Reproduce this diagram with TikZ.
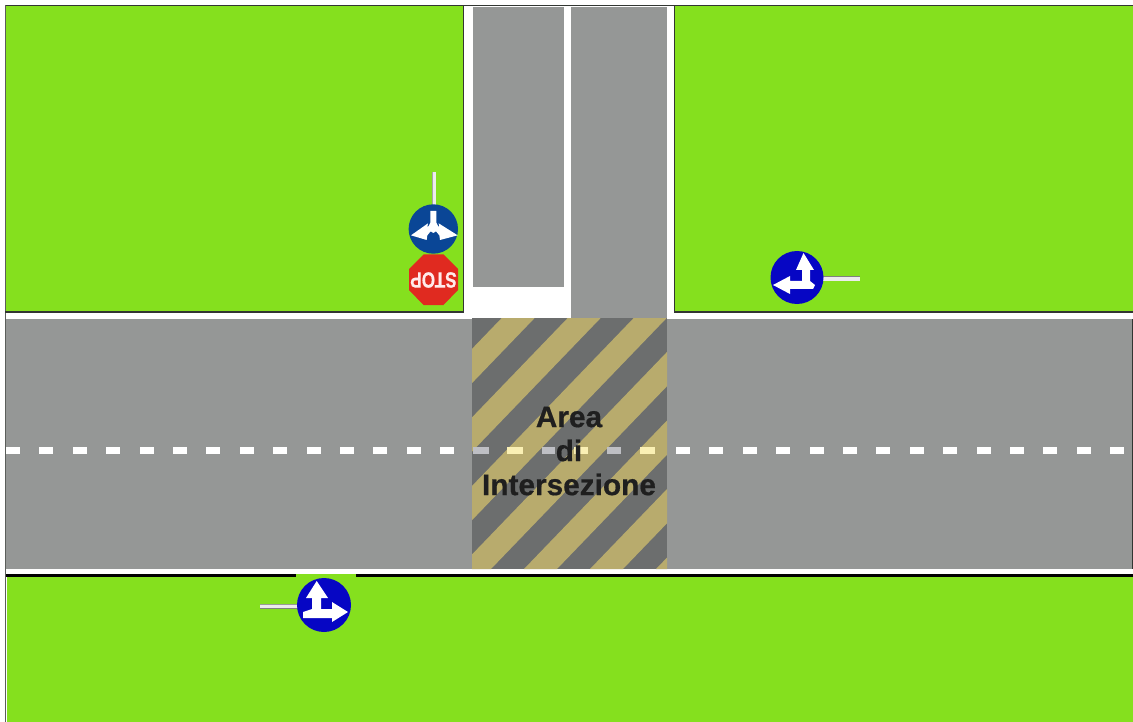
\documentclass[tikz,border=0pt]{standalone}
\usepackage{fontspec}
\setmainfont{Liberation Sans}
\newfontfamily\heavyfont[FakeBold=0.6]{Liberation Sans Bold}
\definecolor{grass}{RGB}{133,224,30}
\definecolor{road}{RGB}{149,151,150}
\definecolor{stripegray}{RGB}{108,110,110}
\definecolor{stripegold}{RGB}{184,171,109}
\definecolor{signblue}{RGB}{6,6,196}
\definecolor{signnavy}{RGB}{10,70,150}
\definecolor{stopred}{RGB}{224,42,32}
\definecolor{edgedark}{RGB}{50,54,50}
\definecolor{dashgray}{RGB}{190,191,196}
\definecolor{dashcream}{RGB}{250,240,180}
\tikzset{
  grassfill/.style={fill=grass},
  roadfill/.style={fill=road},
  dashmark/.style={fill=white},
  edgeline/.style={draw=edgedark,line width=1.4pt},
  pole/.style={line width=4.5pt,draw=white!85!gray},
  poleshade/.style={line width=1.2pt,draw=gray},
  arrowfill/.style={fill=white},
}
\begin{document}
\begin{tikzpicture}[x=1pt,y=-1pt]
\useasboundingbox (0,0) rectangle (1133,722);
\fill[white] (0,0) rectangle (1133,722);
% grass
\fill[grassfill] (6,6) rectangle (464,312);
\fill[grassfill] (675,6) rectangle (1133,312);
\fill[grassfill] (7,577) rectangle (1133,722);
% roads
\fill[roadfill] (6,319) rectangle (1133,569);
\fill[roadfill] (473,7) rectangle (564,287);
\fill[roadfill] (571,7) rectangle (666.5,319);
% borders
\draw[edgeline] (5,5.6) -- (1133,5.6);
\draw[edgeline,draw=edgedark!80] (5.5,5) -- (5.5,722);
\draw[edgeline] (463.7,6) -- (463.7,312) -- (5,312);
\draw[edgeline] (674.6,6) -- (674.6,312) -- (1133,312);
\draw[edgeline] (1132.3,319) -- (1132.3,569);
\draw[line width=3pt,black] (6,575.5) -- (1133,575.5);
% dashes
\foreach \k in {0,...,13} {\fill[dashmark] ({6+33.4*\k},447) rectangle ++(14,7);}
\foreach \k in {0,...,13} {\fill[dashmark] ({676+33.4*\k},447) rectangle ++(14,7);}
% intersection area
\fill[stripegray] (472,318) rectangle (667,569);
\begin{scope}
\clip (472,318) rectangle (667,569);
\foreach \k in {0,...,6} {
  \fill[stripegold] ({501.7+66*\k},318) -- ({534.7+66*\k},318) -- ({293+66*\k},569) -- ({260+66*\k},569) -- cycle;
}
\end{scope}
\fill[dashgray] (472.7,447) rectangle (489,454);
\fill[dashcream] (507,447) rectangle (523,454);
\fill[dashgray] (541.7,447) rectangle (555,454);
\fill[dashcream] (574,447) rectangle (588,454);
\fill[dashgray] (607,447) rectangle (621,454);
\fill[dashcream] (640,447) rectangle (655,454);
\node[font=\fontsize{29.8}{34}\heavyfont,text=black!88,align=center,inner sep=0pt] (areatext) at (569,451) {Area\\di\\Intersezione};
% sign 1: navy + stop
\draw[pole] (434,172) -- (434,206);
\draw[poleshade,draw=gray!70] (432.2,172) -- (432.2,206);
\fill[signnavy] (433.3,229) circle (24.7);
\begin{scope}[shift={(390,160)},scale=1/3]
\fill[arrowfill] (121,153) -- (139,153) -- (139,188) -- (144,198) -- (148,201) -- (146,190) -- (203,226) -- (150,240) -- (148,226) -- (138,214) -- (130,219) -- (122,214) -- (112,226) -- (110,240) -- (63,226) -- (114,190) -- (112,201) -- (116,198) -- (121,188) -- cycle;
\end{scope}
\fill[stopred] (423.5,254.5) -- (443.5,254.5) -- (458,269) -- (458,290) -- (443.5,305) -- (423.5,305) -- (409,290) -- (409,269) -- cycle;
\node[rotate=180,xscale=.78,text=white!92!red,font=\fontsize{22}{22}\heavyfont,inner sep=0pt] (stoptext) at (433.5,280) {STOP};
% sign 2
\draw[pole] (822,278.5) -- (860,278.5);
\draw[poleshade,draw=gray] (822,276.6) -- (860,276.6);
\fill[signblue] (797,277.5) circle (26.5);
\fill[arrowfill] (803.5,253) -- (814,270) -- (810,270) -- (810,281) -- (815,285) -- (813,289) -- (790,289) -- (790,294) -- (773,285) -- (790,276) -- (790,281) -- (802,281) -- (802,270) -- (796,270) -- cycle;
% sign 3
\fill[grassfill] (296,574) rectangle (356,580);
\draw[pole] (260,606.5) -- (298,606.5);
\draw[poleshade,draw=gray] (260,608.2) -- (298,608.2);
\draw[poleshade,draw=gray!80] (260,604.6) -- (298,604.6);
\fill[signblue] (324,605) circle (27);
\fill[arrowfill] (316.7,581) -- (328,598) -- (321,598) -- (321,609) -- (332,609) -- (332,602) -- (348,612) -- (332,622) -- (332,618) -- (303,618) -- (303,612) -- (312,609) -- (312,598) -- (306,598) -- cycle;
\end{tikzpicture}
\end{document}
